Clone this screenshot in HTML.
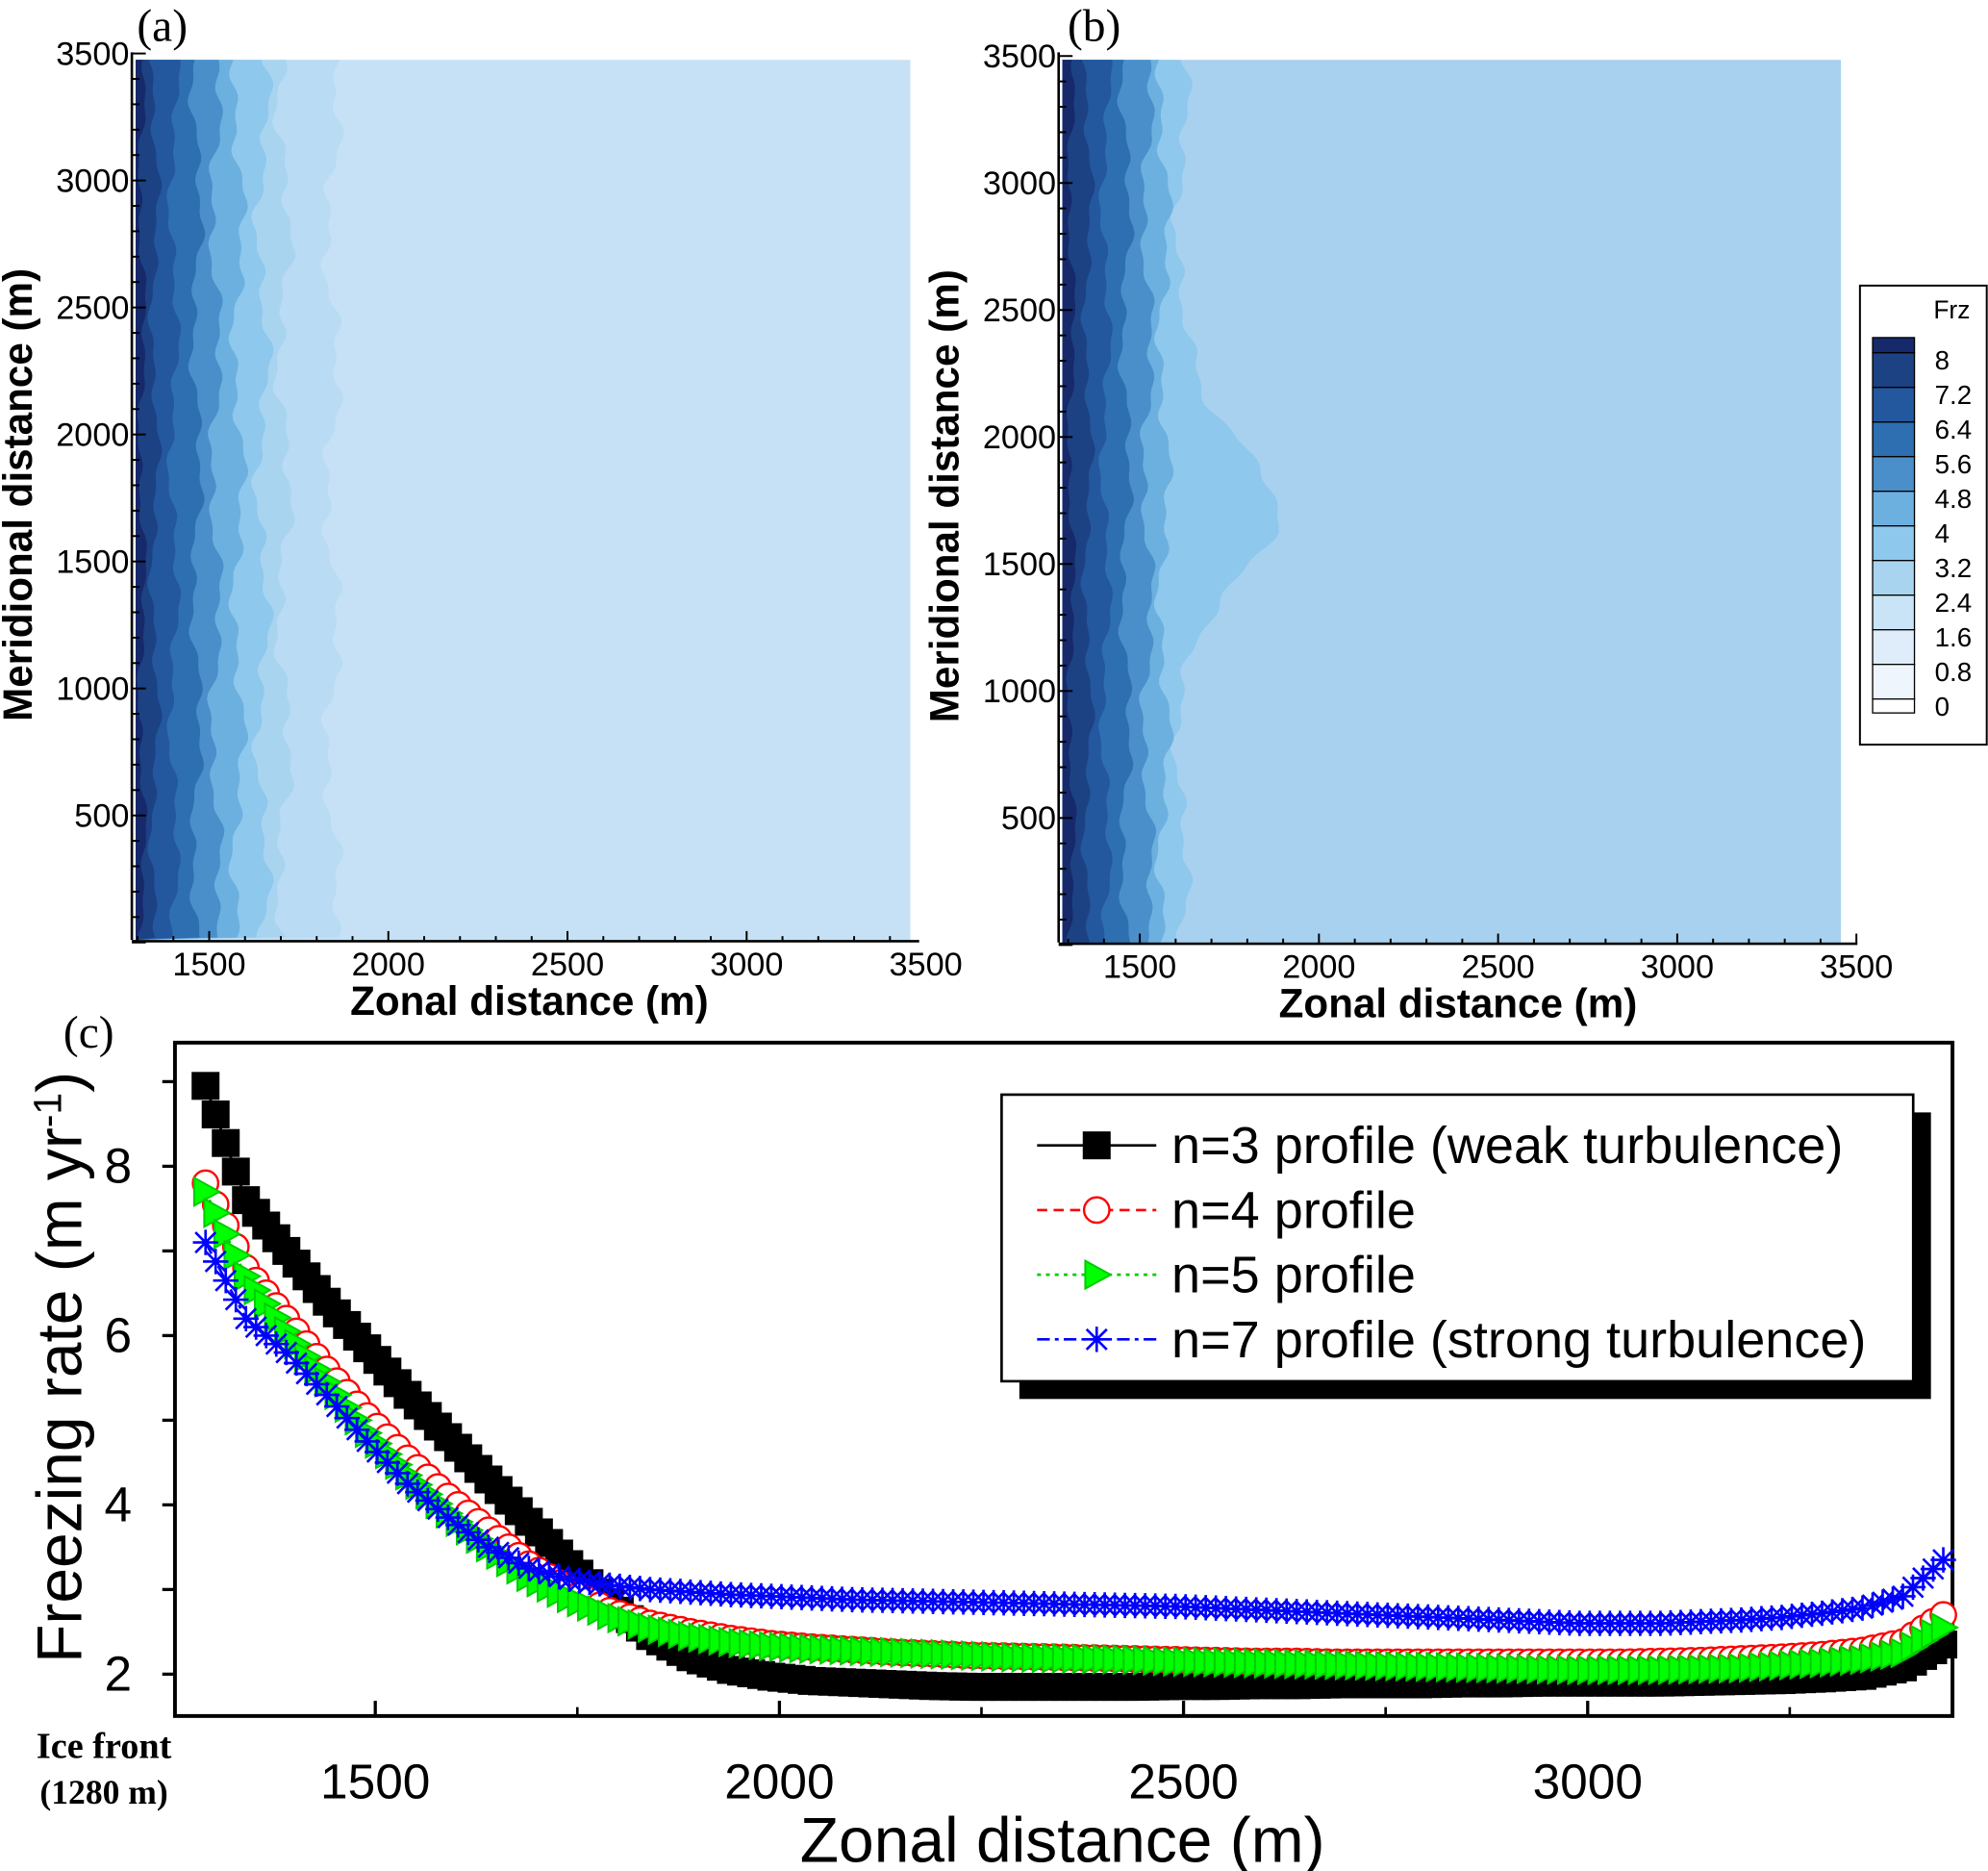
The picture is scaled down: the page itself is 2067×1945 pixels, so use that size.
<!DOCTYPE html>
<html><head><meta charset="utf-8"><style>
html,body{margin:0;padding:0;background:#fff;}
svg{display:block;}
text{font-family:"Liberation Sans",Arial,sans-serif;}
.serif{font-family:"Liberation Serif",serif;}
</style></head><body>
<svg id="root" width="2067" height="1945" viewBox="0 0 1568 1475" xmlns="http://www.w3.org/2000/svg">
<g id="pa"></g>
<g id="pb"></g>
<g id="cbar"></g>
<g id="pc"></g>
</svg>
<script>
// ---- Panel (c) data ----
const zonalX = [1290,1340,1390,1440,1490,1540,1590,1640,1690,1740,1790,1840,1890,1940,1990,2040,2090,2140,2190,2240,2290,2340,2390,2440,2490,2540,2590,2640,2690,2740,2790,2840,2890,2940,2990,3040,3090,3140,3190,3240,3290,3340,3390,3440];
const n3Values = [8.95,7.6,7.0,6.4,5.85,5.3,4.8,4.3,3.8,3.3,2.85,2.45,2.2,2.05,1.97,1.92,1.9,1.88,1.86,1.85,1.85,1.85,1.85,1.85,1.86,1.86,1.87,1.87,1.88,1.88,1.88,1.89,1.89,1.9,1.9,1.9,1.9,1.91,1.92,1.93,1.95,1.98,2.08,2.35];
const n4Values = [7.8,6.8,6.2,5.6,5.05,4.55,4.1,3.7,3.3,3.0,2.75,2.6,2.5,2.42,2.36,2.32,2.29,2.26,2.24,2.22,2.21,2.2,2.19,2.18,2.17,2.16,2.15,2.15,2.14,2.14,2.14,2.14,2.14,2.14,2.14,2.14,2.15,2.16,2.18,2.2,2.23,2.28,2.38,2.7];
const n5Values = [7.7,6.7,6.05,5.45,4.85,4.35,3.9,3.5,3.15,2.9,2.7,2.55,2.45,2.38,2.33,2.3,2.28,2.26,2.24,2.22,2.2,2.19,2.18,2.17,2.15,2.14,2.13,2.12,2.11,2.1,2.09,2.08,2.07,2.06,2.05,2.05,2.05,2.06,2.07,2.1,2.13,2.17,2.25,2.55];
const n7Values = [7.1,6.2,5.8,5.3,4.75,4.25,3.85,3.5,3.25,3.12,3.05,3.0,2.97,2.94,2.92,2.9,2.88,2.87,2.86,2.85,2.84,2.83,2.82,2.81,2.8,2.78,2.76,2.74,2.72,2.7,2.68,2.66,2.64,2.62,2.6,2.6,2.6,2.62,2.64,2.67,2.72,2.78,2.92,3.35];
const cXTicks = [1500,2000,2500,3000];
const cYTicks = [2,4,6,8];
const mapXTicks = [1500,2000,2500,3000,3500];
const mapYTicks = [500,1000,1500,2000,2500,3000,3500];
const levelLabels = ["8","7.2","6.4","5.6","4.8","4","3.2","2.4","1.6","0.8","0"];
const levelColors = ["#1c4283","#23579e","#2d6fb1","#4a8fca","#6cb0df","#8ec8ec","#a8d4f0","#c8e4f6","#deedf9","#eef5fc","#ffffff"];

const NS="http://www.w3.org/2000/svg";
function mk(tag,attrs,parent,txt){const e=document.createElementNS(NS,tag);for(const k in attrs)e.setAttribute(k,attrs[k]);if(txt!==undefined)e.textContent=txt;parent.appendChild(e);return e;}

// ---- Panel c axes ----
const C={x0:138,x1:1540,y0:822,y1:1353};
const cx=v=>296+(v-1500)*0.6375;
const cy=v=>1320-(v-2)*66.75;
const pc=document.getElementById('pc');
let r=mk('rect',{x:C.x0,y:C.y0,width:C.x1-C.x0,height:C.y1-C.y0,fill:'none',stroke:'#000','stroke-width':3},pc);


let t=mk('text',{x:50,y:826,'font-size':36},pc,'(c)');t.setAttribute('class','serif');


cXTicks.forEach(v=>{mk('line',{x1:cx(v),x2:cx(v),y1:C.y1,y2:C.y1-12,stroke:'#000','stroke-width':2.5},pc);
 const tl=mk('text',{x:cx(v),y:1418,'font-size':39,'text-anchor':'middle'},pc,v);
 
 });
[1750,2250,2750,3250].forEach(v=>mk('line',{x1:cx(v),x2:cx(v),y1:C.y1,y2:C.y1-7,stroke:'#000','stroke-width':2},pc));
cYTicks.forEach(v=>{mk('line',{x1:C.x0,x2:C.x0-10,y1:cy(v),y2:cy(v),stroke:'#000','stroke-width':2.5},pc);
 const tl=mk('text',{x:104,y:cy(v)+13,'font-size':39,'text-anchor':'end'},pc,v);
 
 });
[3,5,7,9].forEach(v=>mk('line',{x1:C.x0,x2:C.x0-10,y1:cy(v),y2:cy(v),stroke:'#000','stroke-width':2.5},pc));
t=mk('text',{x:838,y:1468,'font-size':50,'text-anchor':'middle'},pc,'Zonal distance (m)');


t=mk('text',{transform:'translate(64,1078) rotate(-90)','font-size':50,'text-anchor':'middle'},pc);


t.innerHTML='Freezing rate (m yr<tspan dy="-16" font-size="31">-1</tspan><tspan dy="16">)</tspan>';
t=mk('text',{x:82,y:1386,'font-size':29,'font-weight':'bold','text-anchor':'middle'},pc,'Ice front');t.setAttribute('class','serif');


t=mk('text',{x:82,y:1422,'font-size':27,'font-weight':'bold','text-anchor':'middle'},pc,'(1280 m)');t.setAttribute('class','serif');



function marker(g,type,x,y,color){
 if(type==='sq') return mk('rect',{x:x-11,y:y-11,width:22,height:22,fill:'#000'},g);
 if(type==='ci') return mk('circle',{cx:x,cy:y,r:10,fill:'#fff',stroke:color,'stroke-width':1.8},g);
 if(type==='tr') return mk('polygon',{points:`${x-9},${y-11} ${x+11},${y} ${x-9},${y+11}`,fill:'#0f0',stroke:'#0c0','stroke-width':1.5},g);
 const p=`M${x-10},${y}H${x+10}M${x},${y-10}V${y+10}M${x-8},${y-8}L${x+8},${y+8}M${x-8},${y+8}L${x+8},${y-8}`;
 return mk('path',{d:p,stroke:color,'stroke-width':2,fill:'none'},g);
}
const series=[[n3Values,'sq','#000','none','n3'],[n4Values,'ci','#f00','8,5','n4'],[n5Values,'tr','#0c0','3,4','n5'],[n7Values,'st','#00f','10,4,3,4','n7']];
series.forEach(([vals,type,col,dash,nm])=>{
 const g=mk('g',{},pc);
 
 
 const pts=zonalX.map((x,i)=>cx(x)+','+cy(vals[i])).join(' ');
 mk('polyline',{points:pts,fill:'none',stroke:col,'stroke-width':2,'stroke-dasharray':dash},g);
 for(let i=0;i<zonalX.length;i++){
  const m=marker(g,type,cx(zonalX[i]),cy(vals[i]),col);
  
  
  if(i<zonalX.length-1){for(let k=1;k<4;k++){const f=k/4;marker(g,type,cx(zonalX[i]+50*f),cy(vals[i]+(vals[i+1]-vals[i])*f),col);}}
 }
});
// legend
const lg=mk('g',{},pc);


mk('rect',{x:804,y:877,width:719,height:226,fill:'#000'},lg);
mk('rect',{x:790,y:863,width:719,height:226,fill:'#fff',stroke:'#000','stroke-width':2},lg);
const labs=['n=3 profile (weak turbulence)','n=4 profile','n=5 profile','n=7 profile (strong turbulence)'];
series.forEach(([v,type,col,dash,nm],i)=>{
 const y=903+i*51;
 const e=mk('g',{},lg);
 
 
 mk('line',{x1:818,x2:912,y1:y,y2:y,stroke:col,'stroke-width':2,'stroke-dasharray':dash},e);
 marker(e,type,865,y,col);
 mk('text',{x:924,y:y+14,'font-size':41},e,labs[i]);
});

// ---- Maps a & b ----
function wig(y,seed,amp){return amp*(Math.sin(y*0.09+seed)*0.6+Math.sin(y*0.031+seed*2.3)*0.8+Math.sin(y*0.21+seed*1.7)*0.35);}
function drawMap(gid,P,bounds,bg,bump,label,lx,ly){
 const g=document.getElementById(gid);
 const px=v=>P.x1500+(v-1500)*0.2826;
 const py=v=>P.yb-v*0.2003;
 mk('rect',{x:P.l,y:P.t,width:P.r-P.l,height:P.b-P.t,fill:bg},g);
 for(let i=bounds.length-1;i>=0;i--){
  const [xb,col]=bounds[i];
  let d=`M${P.l},${P.t}`;
  for(let y=P.t;y<=P.b;y+=4){let x=xb+wig(y,i*1.3,3+i*0.4);
   if(bump&&i===bounds.length-1){const c=(y-400)/70;x+=bump*Math.exp(-c*c);}
   d+=`L${x.toFixed(1)},${y}`;}
  d+=`L${P.l},${P.b}Z`;
  const p=mk('path',{d:d,fill:col},g);
  
  
 }
 mk('line',{x1:P.l-3,x2:P.l-3,y1:P.t-6,y2:P.b,stroke:'#000','stroke-width':2},g);
 mk('line',{x1:P.l-3,x2:P.axr,y1:P.b+1,y2:P.b+1,stroke:'#000','stroke-width':2},g);
 for(let v=0;v<=3500;v+=100){const y=py(v);if(y<P.t-8)continue;mk('line',{x1:P.l-3,x2:P.l+(v%500?3:8),y1:y,y2:y,stroke:'#000','stroke-width':1.5},g);}
 for(let v=1300;v<=3500;v+=100){const x=px(v);if(x>P.axr)continue;mk('line',{x1:x,x2:x,y1:P.b+1,y2:P.b-(v%500?3:7),stroke:'#000','stroke-width':1.5},g);}
 mapYTicks.forEach(v=>{const tl=mk('text',{x:P.l-5,y:py(v)+9,'font-size':26,'text-anchor':'end'},g,v);
  
  });
 mapXTicks.forEach(v=>{const tl=mk('text',{x:px(v),y:P.b+28,'font-size':26,'text-anchor':'middle'},g,v);
  
  });
 let tt=mk('text',{x:(P.l+P.r)/2+5,y:P.b+59,'font-size':32,'font-weight':'bold','text-anchor':'middle'},g,'Zonal distance (m)');
 
 
 tt=mk('text',{transform:`translate(${P.l-82},${(P.t+P.b)/2-4}) rotate(-90)`,'font-size':32,'font-weight':'bold','text-anchor':'middle'},g,'Meridional distance (m)');
 
 
 mk('rect',{x:lx-2,y:0,width:52,height:40,fill:'#fff'},g);
 tt=mk('text',{x:lx,y:ly,'font-size':36},g,label);tt.setAttribute('class','serif');
 
 
}
drawMap('pa',{l:107,r:718,t:47,b:741,x1500:165,yb:743,axr:725},
 [[112,'#16296b'],[122,'#1c4283'],[137,'#23579e'],[155,'#2d6fb1'],[170,'#4a8fca'],[188,'#6cb0df'],[207,'#8ec8ec'],[224,'#a8d4f0'],[262,'#b9dbf3']],
 '#c6e1f5',0,'(a)',108,32);
drawMap('pb',{l:838,r:1452,t:47,b:743,x1500:899,yb:745,axr:1465},
 [[845,'#16296b'],[858,'#1c4283'],[872,'#23579e'],[888,'#2d6fb1'],[905,'#4a8fca'],[918,'#6cb0df'],[932,'#8ec8ec']],
 '#a8d1ef',80,'(b)',842,32);

// colorbar
const cb=document.getElementById('cbar');
mk('rect',{x:1467,y:225,width:100,height:362,fill:'#fff',stroke:'#000','stroke-width':1.5},cb);
mk('text',{x:1525,y:251,'font-size':20},cb,'Frz');
mk('rect',{x:1477,y:266,width:33,height:12,fill:'#16296b',stroke:'#000','stroke-width':1},cb);
levelLabels.forEach((lab,i)=>{
 const y=278+i*27.3;
 const s=mk('rect',{x:1477,y:y,width:33,height:i===10?11:27.3,fill:levelColors[i],stroke:'#000','stroke-width':1},cb);
 
 
 const tl=mk('text',{x:1526,y:291+i*27.3,'font-size':21},cb,lab);
 
 
});
</script>
</body></html>
